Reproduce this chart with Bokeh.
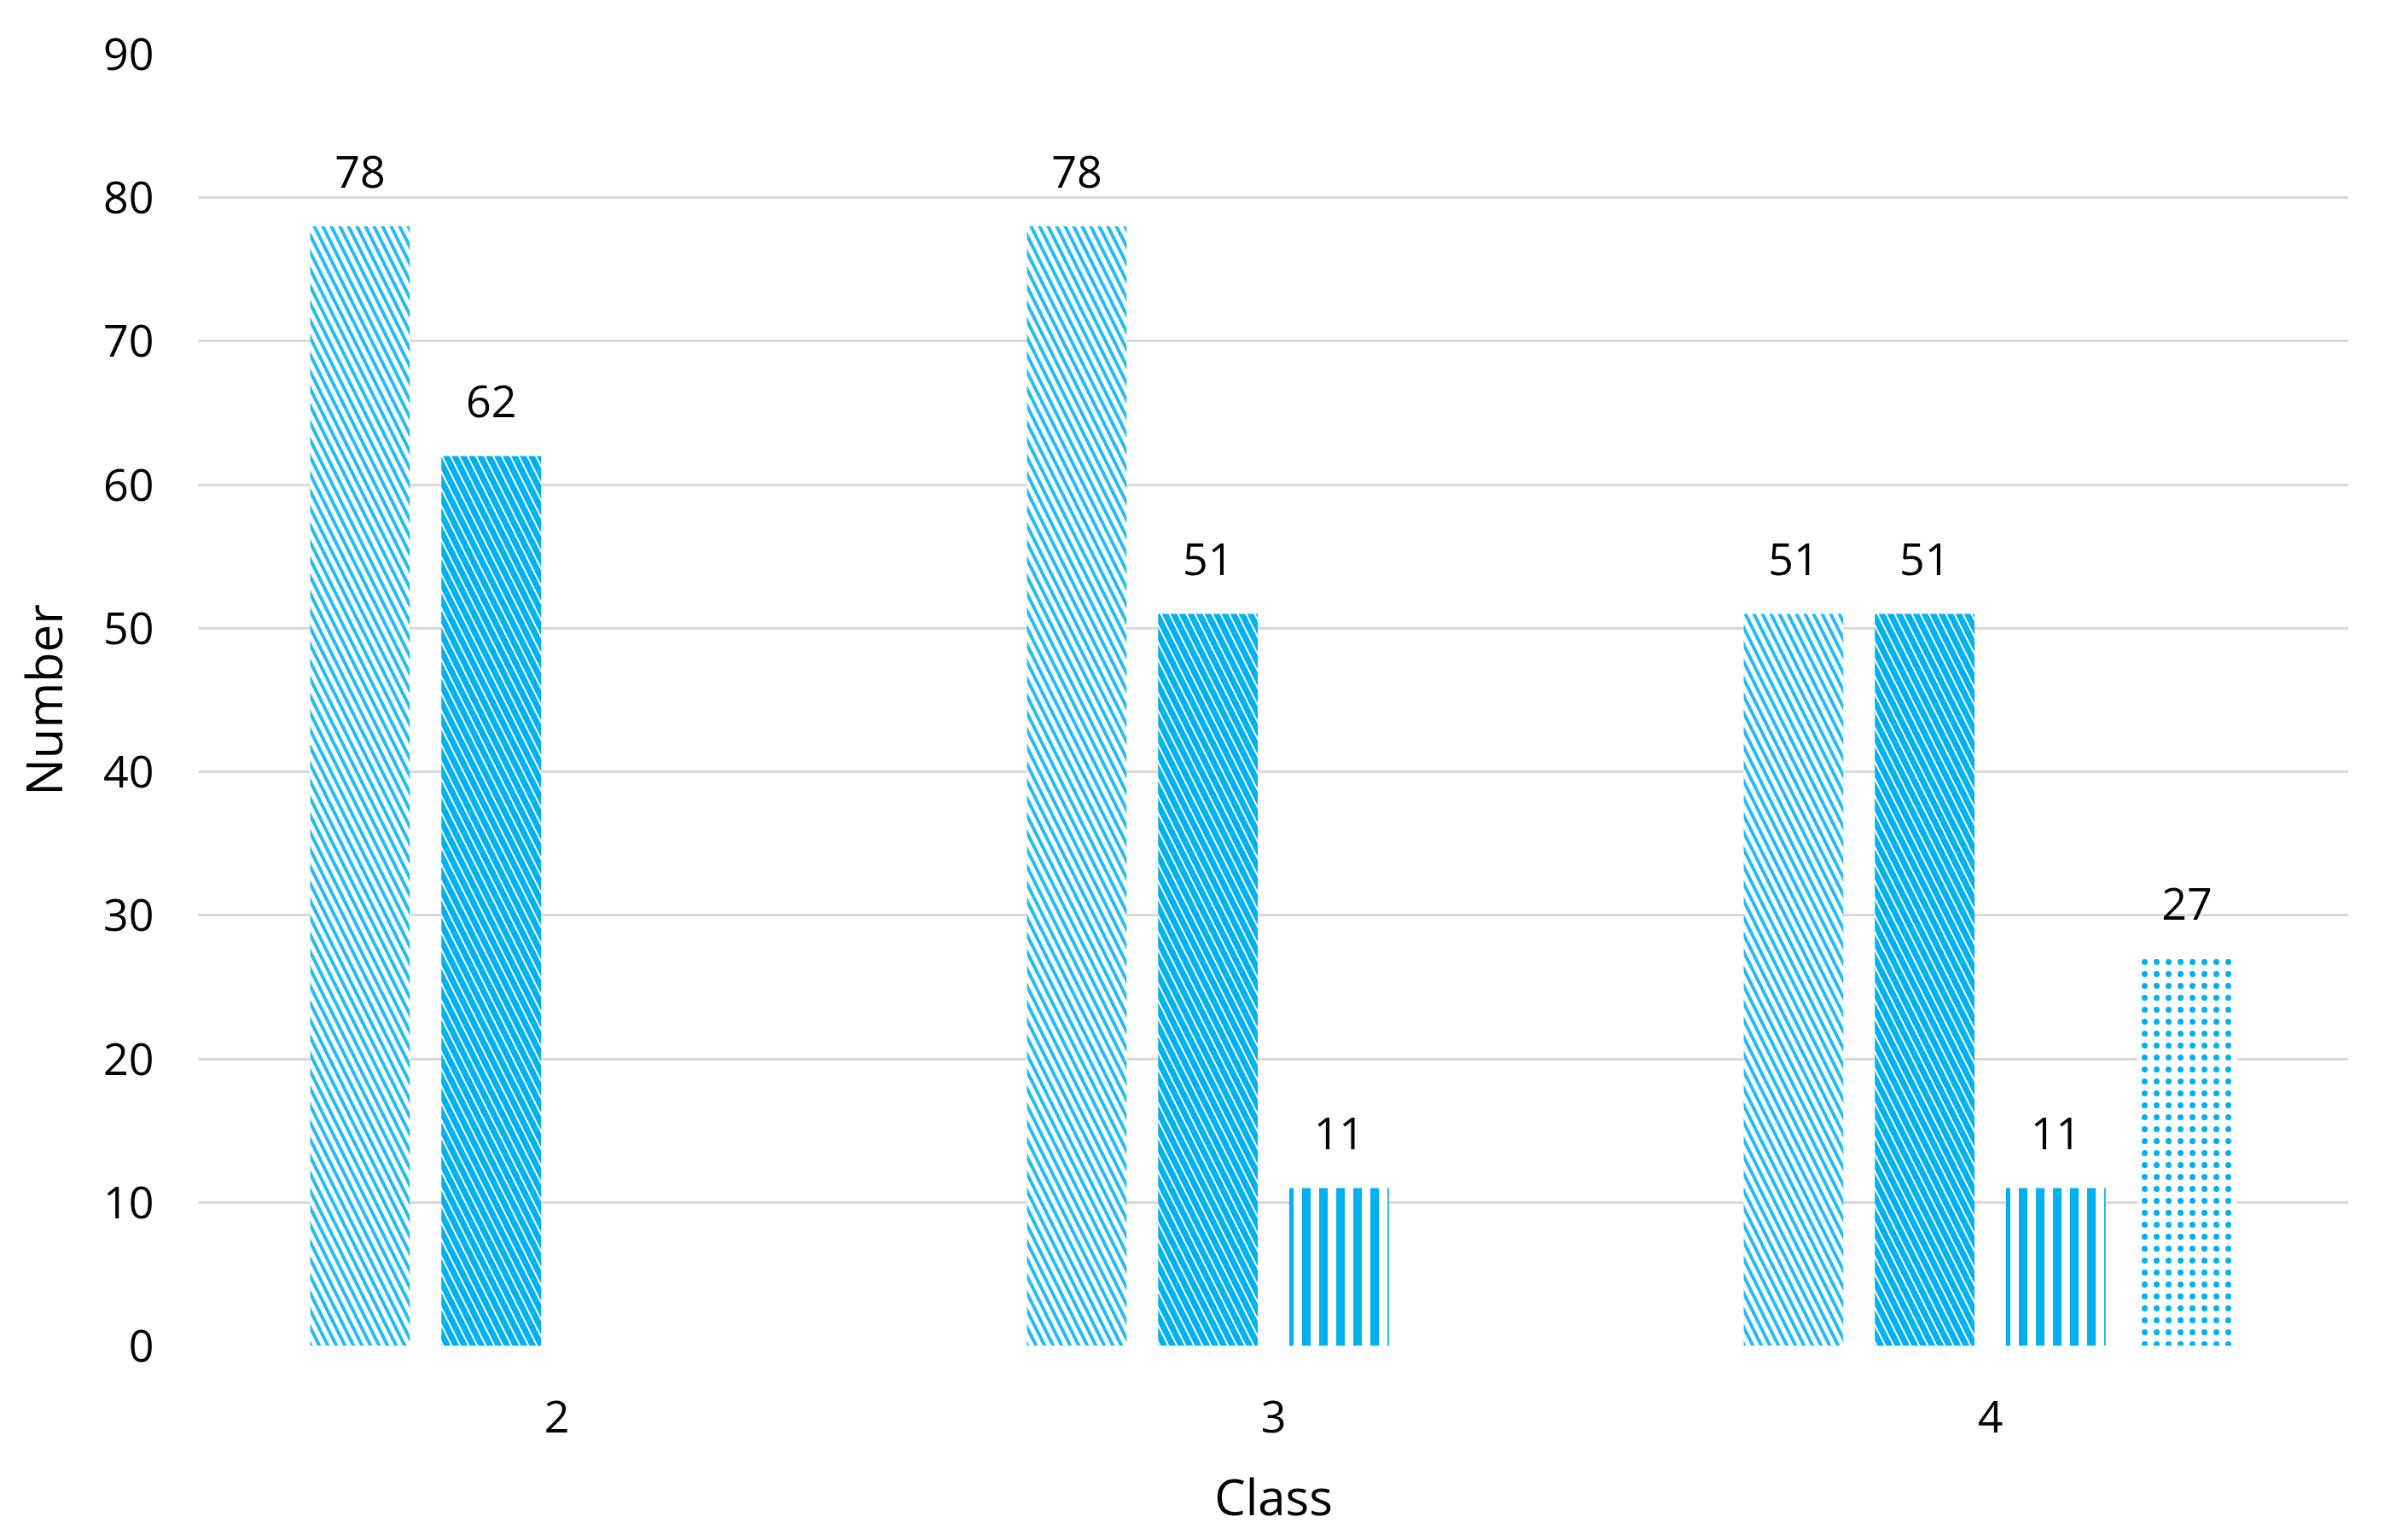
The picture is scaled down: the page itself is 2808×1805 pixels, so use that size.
from bokeh.plotting import figure
from bokeh.models import ColumnDataSource, FactorRange, Range1d, FixedTicker
from bokeh.transform import dodge
from bokeh.core.properties import value
from bokeh.embed import file_html
from bokeh.resources import INLINE

# ---- data ----
classes = ["2", "3", "4"]
series_a = [78, 78, 51]
series_b = [62, 51, 51]
series_c = [None, 11, 11]
series_d = [None, None, 27]
y_ticks = [0, 10, 20, 30, 40, 50, 60, 70, 80, 90]
x_title = "Class"
y_title = "Number"

# ---- styles ----
FONT = "Open Sans"
BLUE = "#00B0F0"
offsets = [-0.2745, -0.0915, 0.0915, 0.2745]
bar_w = 0.139
hatches = [
    dict(hatch_pattern="left_diagonal_line", hatch_scale=20, hatch_weight=4, hatch_color=BLUE, hatch_alpha=0.85),
    dict(hatch_pattern="left_diagonal_line", hatch_scale=20, hatch_weight=7, hatch_color=BLUE, hatch_alpha=1.0),
    dict(hatch_pattern="vertical_line", hatch_scale=20, hatch_weight=10, hatch_color=BLUE, hatch_alpha=1.0),
    dict(hatch_pattern="dot", hatch_scale=14, hatch_weight=5, hatch_color=BLUE, hatch_alpha=1.0),
]

p = figure(
    x_range=FactorRange(*classes),
    y_range=Range1d(0, 90),
    frame_width=2520, frame_height=1514,
    min_border_left=232, min_border_right=48, min_border_top=63, min_border_bottom=220,
    output_backend="svg", toolbar_location=None,
)
p.outline_line_color = None
p.background_fill_color = "white"
p.border_fill_color = "white"

p.xgrid.grid_line_color = None
p.ygrid.grid_line_color = "#D9D9D9"
p.ygrid.grid_line_width = 3
p.yaxis.ticker = FixedTicker(ticks=y_ticks)

for ax in (p.xaxis, p.yaxis):
    ax.axis_line_color = None
    ax.major_tick_line_color = None
    ax.minor_tick_line_color = None
    ax.major_tick_out = 0
    ax.major_tick_in = 0
    ax.major_label_text_font = FONT
    ax.major_label_text_font_size = "52px"
    ax.major_label_text_color = "#000000"
    ax.axis_label_text_font = FONT
    ax.axis_label_text_font_size = "58px"
    ax.axis_label_text_font_style = "normal"
    ax.axis_label_text_color = "#000000"

p.yaxis.axis_label = y_title
p.xaxis.axis_label = x_title
p.yaxis.major_label_standoff = 52
p.yaxis.axis_label_standoff = 28
p.xaxis.major_label_standoff = 64
p.xaxis.axis_label_standoff = 32

for vals, off, h in zip([series_a, series_b, series_c, series_d], offsets, hatches):
    xs = [c for c, v in zip(classes, vals) if v is not None]
    ys = [v for v in vals if v is not None]
    src = ColumnDataSource(dict(cls=xs, val=ys, lbl=[str(v) for v in ys]))
    p.vbar(x=dodge("cls", off, range=p.x_range), top="val", width=bar_w, source=src,
           fill_color="white", line_color=None, **h)
    p.text(x=dodge("cls", off, range=p.x_range), y="val", text="lbl", source=src,
           text_align="center", text_baseline="alphabetic", y_offset=-64,
           text_font=value(FONT), text_font_size="52px", text_color="#000000")

open("out.html", "w").write(file_html(p, INLINE))
